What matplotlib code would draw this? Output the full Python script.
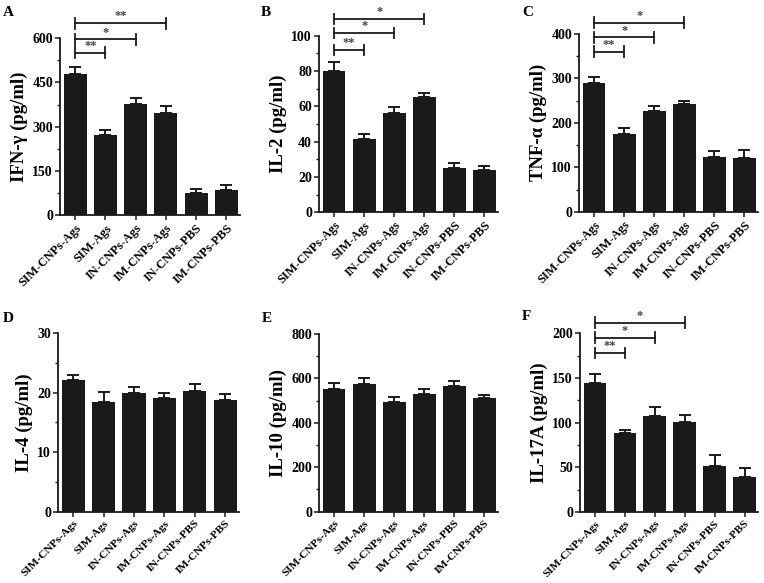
import matplotlib
matplotlib.use("Agg")
import matplotlib.pyplot as plt
from matplotlib.ticker import MultipleLocator

plt.rcParams['font.family'] = ['Liberation Serif', 'DejaVu Serif']
plt.rcParams['font.weight'] = 'bold'

categories = ['SIM-CNPs-Ags', 'SIM-Ags', 'IN-CNPs-Ags', 'IM-CNPs-Ags', 'IN-CNPs-PBS', 'IM-CNPs-PBS']

ifn_mean = [479, 273, 378, 346, 77, 87]
ifn_err = [23, 17, 18, 23, 11, 17]
il2_mean = [80.1, 41.3, 56.3, 65.1, 25.3, 24.0]
il2_err = [4.9, 2.8, 3.2, 2.3, 2.4, 2.3]
tnf_mean = [289, 176, 227, 242, 123, 121]
tnf_err = [14, 12, 11, 6, 13, 18]
il4_mean = [22.1, 18.5, 19.9, 19.05, 20.3, 18.8]
il4_err = [0.8, 1.6, 1.1, 0.9, 1.2, 0.95]
il10_mean = [551, 573, 494, 531, 564, 510]
il10_err = [30, 28, 22, 20, 26, 14]
il17_mean = [144, 88, 107, 101, 51.5, 39]
il17_err = [11, 3.5, 11, 7.5, 12.5, 10.6]

panel_letters = ['A', 'B', 'C', 'D', 'E', 'F']
ylabels = ['IFN-γ (pg/ml)', 'IL-2 (pg/ml)', 'TNF-α (pg/ml)', 'IL-4 (pg/ml)', 'IL-10 (pg/ml)', 'IL-17A (pg/ml)']
ymaxes = [600, 100, 400, 30, 800, 200]
ymajor = [150, 20, 100, 10, 200, 50]

sig_levels = {0: [550, 595, 650], 1: [92, 101.5, 109.5], 2: [360, 392, 425], 5: [178, 195, 212]}
sig_stars = {0: ['**', '*', '**'], 1: ['**', '*', '*'], 2: ['**', '*', '*'], 5: ['**', '*', '*']}
sig_targets = [1, 2, 3]

means = [ifn_mean, il2_mean, tnf_mean, il4_mean, il10_mean, il17_mean]
errs = [ifn_err, il2_err, tnf_err, il4_err, il10_err, il17_err]

W, H = 764, 583
fig = plt.figure(figsize=(W / 100, H / 100), dpi=100)

# pixel boxes: left, top, right, bottom
boxes = [(60, 38, 240, 215.5), (319, 35.7, 498, 212.3), (579, 33.7, 758, 212),
         (58, 333, 239, 511.7), (319, 334, 498, 511.7), (580, 333.3, 758, 512)]
letter_pos = [(3, 13), (261, 12), (522, 12), (3, 318), (262, 318), (522, 316)]
xlabel_sizes = [9.0, 9.0, 9.0, 8.2, 8.2, 8.2]

for i in range(6):
    l, t, r, b = boxes[i]
    ax = fig.add_axes([l / W, 1 - b / H, (r - l) / W, (b - t) / H])
    x = list(range(len(categories)))
    ax.bar(x, means[i], width=0.76, color='#1a1a1a', zorder=2)
    ax.errorbar(x, means[i], yerr=[[0] * 6, errs[i]], fmt='none', ecolor='#1a1a1a',
                elinewidth=1.4, capsize=4.5, capthick=1.4, zorder=1)
    ax.set_xlim(-0.5, 5.45)
    ax.set_ylim(0, ymaxes[i])
    ax.yaxis.set_major_locator(MultipleLocator(ymajor[i]))
    ax.yaxis.set_minor_locator(MultipleLocator(ymajor[i] / 2))
    for s in ['top', 'right']:
        ax.spines[s].set_visible(False)
    for s in ['left', 'bottom']:
        ax.spines[s].set_linewidth(1.3)
        ax.spines[s].set_color('#1a1a1a')
    ax.tick_params(axis='both', which='major', direction='out', length=3.5, width=1.1,
                   color='#1a1a1a', labelsize=10, pad=1.5)
    ax.tick_params(axis='y', which='minor', direction='out', length=2.2, width=1.0, color='#1a1a1a')
    ax.set_xticks(x)
    ax.set_xticklabels(categories, rotation=45, ha='right', rotation_mode='anchor',
                       fontsize=xlabel_sizes[i], fontweight='bold')
    for lab in ax.get_yticklabels():
        lab.set_fontweight('bold')
    ax.set_ylabel(ylabels[i], fontsize=13.5, fontweight='bold', labelpad=3)
    fig.text(letter_pos[i][0] / W, 1 - letter_pos[i][1] / H, panel_letters[i],
             fontsize=11, fontweight='bold', va='center', ha='left')
    if i in sig_levels:
        ymax = ymaxes[i]
        cap = 0.03 * ymax
        for lev, st, tgt in zip(sig_levels[i], sig_stars[i], sig_targets):
            ax.plot([0, tgt], [lev, lev], color='#1a1a1a', lw=1.3, clip_on=False)
            for xx in (0, tgt):
                ax.plot([xx, xx], [lev - cap, lev + cap], color='#1a1a1a', lw=1.3, clip_on=False)
            ax.text(tgt / 2, lev + 0.004 * ymax, st, ha='center', va='bottom',
                    fontsize=9, color='#444444', clip_on=False)

fig.savefig('out.png', dpi=100)
